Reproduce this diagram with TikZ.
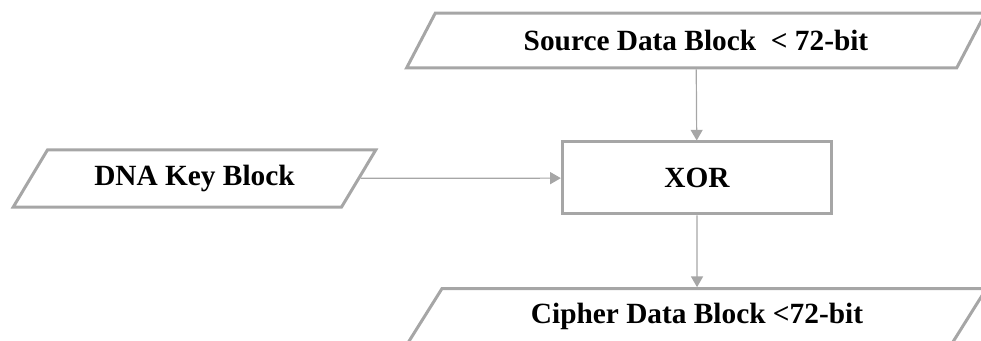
\documentclass[tikz,border=0pt]{standalone}
\usepackage{fontspec}
\setmainfont{Liberation Serif}
\usetikzlibrary{shapes.geometric, arrows.meta}
\definecolor{boxgray}{HTML}{A6A6A6}

\begin{document}
\begin{tikzpicture}[x=0.75pt, y=-0.75pt,
    datablock/.style={trapezium, trapezium left angle=46, trapezium right angle=134,
        trapezium stretches body, draw=boxgray, line width=2.25pt,
        font=\bfseries\fontsize{22}{26}\selectfont},
    opbox/.style={rectangle, draw=boxgray, line width=2.25pt,
        font=\bfseries\fontsize{22}{26}\selectfont},
    flow/.style={draw=boxgray, line width=0.9pt, -{Triangle[length=8pt, width=9pt]}}]
        \useasboundingbox (0,0) rectangle (981,341);
        
        \node[datablock, minimum width=434pt, minimum height=41pt] (src) at (696,40.5) {Source Data Block\ \ < 72-bit};
        \node[opbox, minimum width=202pt, minimum height=54pt] (xor) at (697,178) {XOR};
        \node[datablock, minimum width=272pt, minimum height=43pt] (key) at (194.5,178.5) {DNA Key Block};
        \node[datablock, minimum width=434pt, minimum height=41pt] (cip) at (697,316) {Cipher Data Block <72-bit};
        
        \draw[flow] (src) -- (xor);
        \draw[flow] (key) -- (xor);
        \draw[flow] (xor) -- (cip);
    \end{tikzpicture}
\end{document}
